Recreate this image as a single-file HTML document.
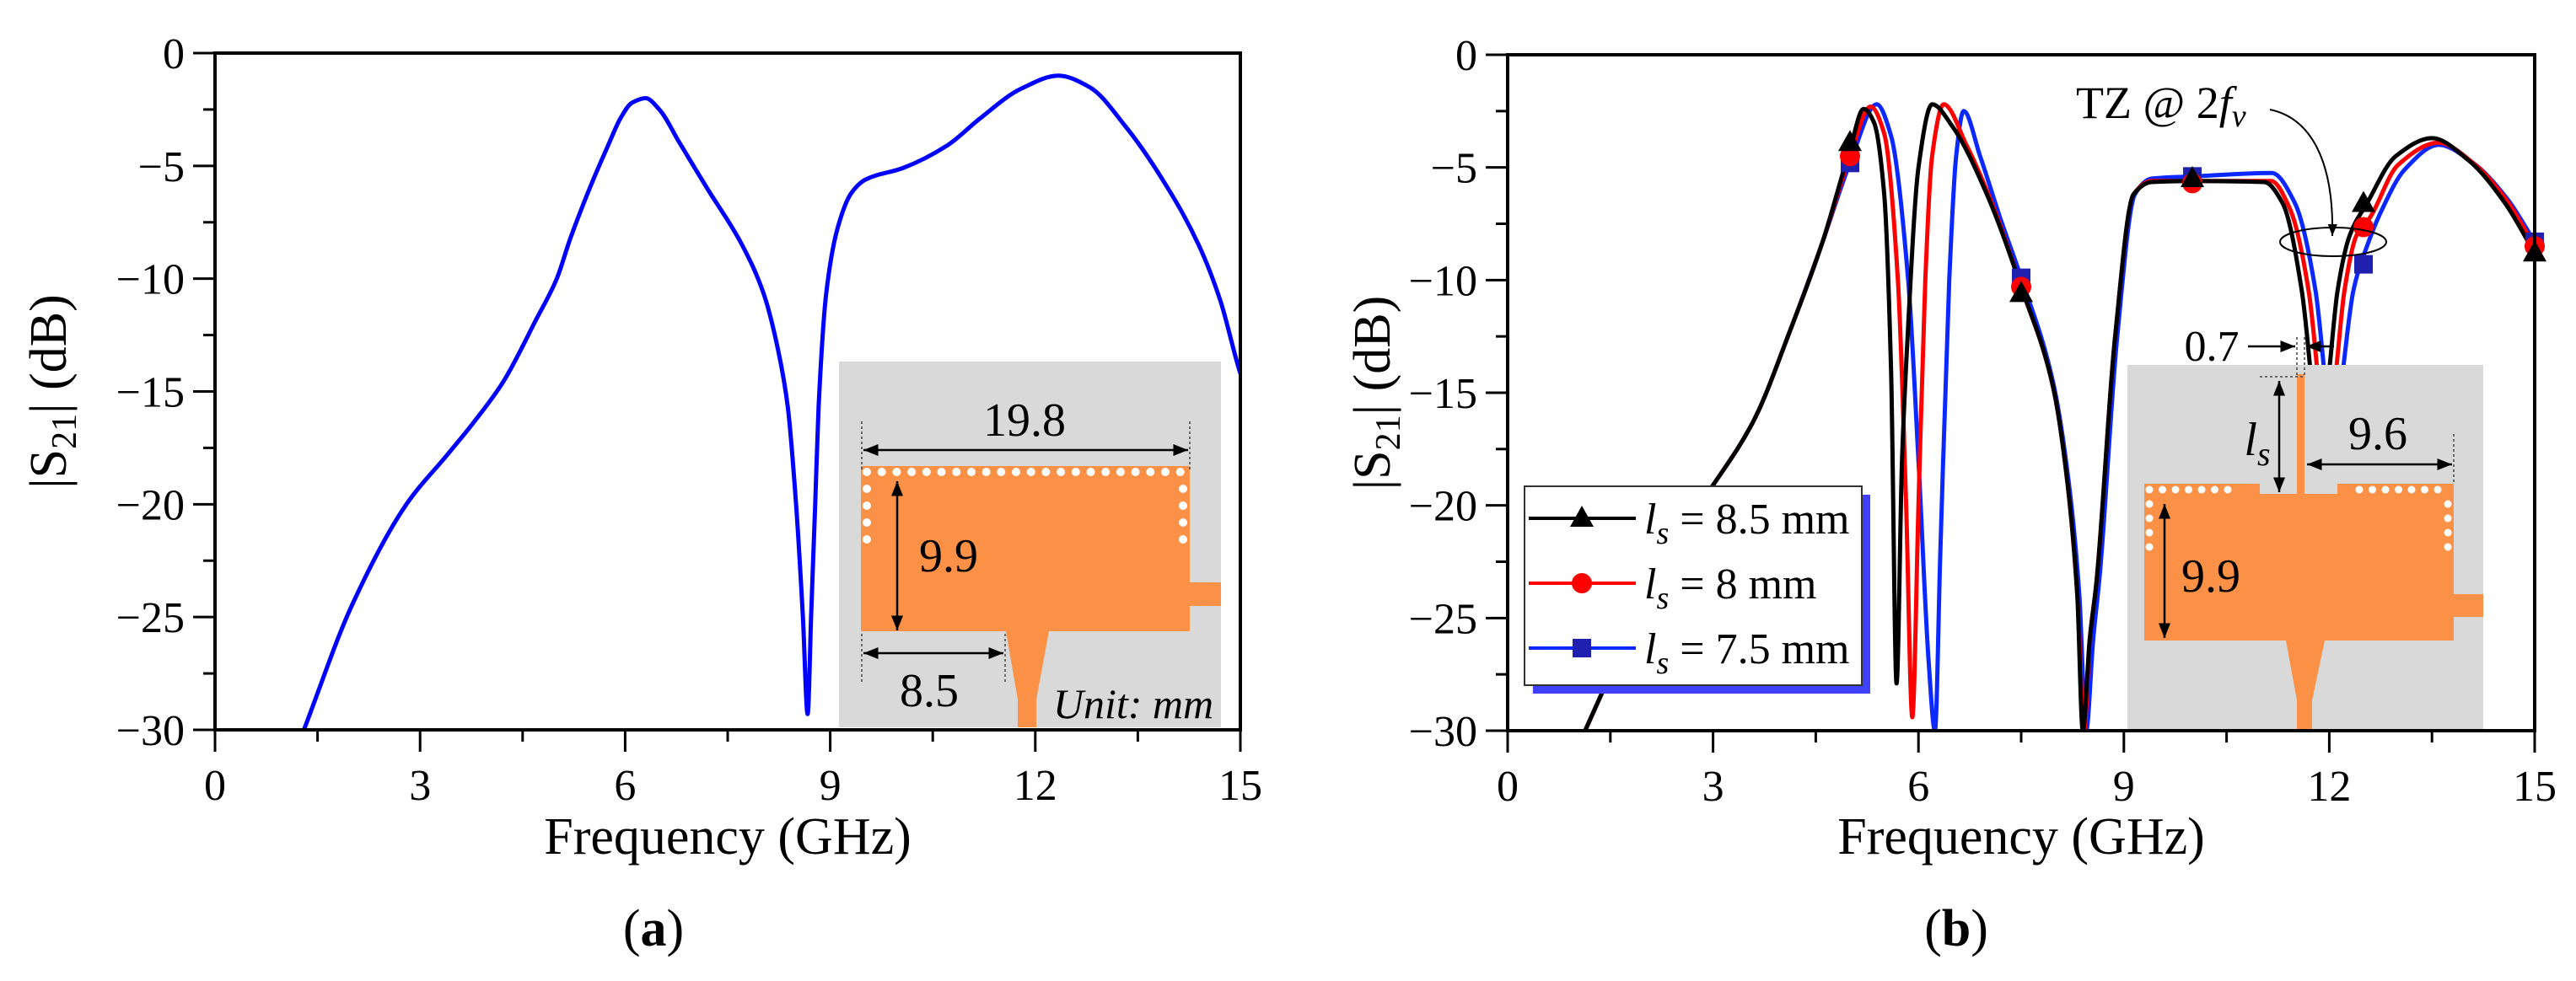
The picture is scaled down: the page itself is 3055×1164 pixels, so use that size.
<!DOCTYPE html>
<html><head><meta charset="utf-8">
<style>
html,body{margin:0;padding:0;background:#fff;}
svg{display:block;font-family:"Liberation Serif",serif;}
</style></head>
<body>
<svg id="fig" width="3055" height="1164" viewBox="0 0 3055 1164" xmlns="http://www.w3.org/2000/svg"></svg>
<script>
// ---------- data ----------
const xTicks = [0, 3, 6, 9, 12, 15];
const yTicks = [0, -5, -10, -15, -20, -25, -30];
const markerFreqs = [5, 7.5, 10, 12.5, 15];

const seriesA = [[1.3,-30],[2.0,-24.5],[2.8,-20],[3.4,-17.8],[3.75,-16.5],[4.21,-14.6],[4.7,-11.8],[5.0,-10],[5.2,-8.2],[5.5,-5.85],[5.75,-4.1],[5.93,-2.9],[6.1,-2.2],[6.3,-2.0],[6.5,-2.5],[6.8,-4],[7.2,-6],[7.71,-8.5],[8.03,-10.7],[8.24,-13.2],[8.38,-15.7],[8.5,-20],[8.6,-25],[8.67,-29.3],[8.72,-25],[8.78,-20],[8.83,-15.7],[8.94,-10.7],[9.1,-7.85],[9.31,-6.2],[9.52,-5.6],[10.06,-5.1],[10.71,-4.1],[11.19,-2.9],[11.78,-1.6],[12.34,-1.0],[12.79,-1.5],[13.32,-3.25],[13.86,-5.6],[14.39,-8.5],[14.71,-11],[14.96,-13.8],[15,-14.2]];

const seriesB85 = [[1.13,-30],[1.8,-25.5],[2.43,-21.5],[3.0,-19.1],[3.6,-16.2],[4.13,-12.2],[4.6,-8.3],[5.0,-4.2],[5.2,-2.4],[5.35,-3.0],[5.5,-6.2],[5.6,-14],[5.68,-27.9],[5.76,-18],[5.84,-12.6],[6.0,-5],[6.2,-2.2],[6.5,-3.2],[7.0,-6.2],[7.5,-10.3],[7.97,-14.8],[8.18,-19.1],[8.32,-24],[8.4,-30],[8.5,-26],[8.6,-23.4],[8.87,-12.6],[9.14,-6.2],[9.4,-5.65],[10,-5.6],[11.05,-5.65],[11.32,-6.6],[11.6,-10.5],[11.75,-14.8],[11.85,-18],[12.0,-14],[12.12,-10.5],[12.3,-8],[12.55,-6.6],[12.97,-4.5],[13.5,-3.7],[14.04,-4.7],[14.57,-6.6],[15,-8.8]];
const seriesB80 = [[1.13,-30],[1.8,-25.5],[2.43,-21.5],[3.0,-19.1],[3.6,-16.2],[4.13,-12.2],[4.6,-8.3],[5.0,-4.5],[5.3,-2.3],[5.5,-3.5],[5.7,-10],[5.82,-20],[5.91,-29.4],[6.0,-20],[6.1,-10],[6.2,-4.5],[6.37,-2.2],[6.7,-4],[7.1,-6.8],[7.5,-10.3],[7.97,-14.8],[8.18,-19.1],[8.32,-24],[8.42,-30],[8.5,-26],[8.6,-23.4],[8.87,-12.6],[9.14,-6.2],[9.4,-5.6],[10,-5.6],[11.15,-5.6],[11.42,-6.8],[11.7,-10.5],[11.85,-14.8],[11.95,-18],[12.1,-14],[12.22,-10.5],[12.4,-8],[12.6,-7.2],[13.0,-4.9],[13.6,-3.9],[14.1,-4.8],[14.6,-6.5],[15,-8.5]];
const seriesB75 = [[1.13,-30],[1.8,-25.5],[2.43,-21.5],[3.0,-19.1],[3.6,-16.2],[4.13,-12.2],[4.6,-8.3],[5.0,-4.8],[5.39,-2.2],[5.6,-3.6],[5.85,-10],[6.0,-18],[6.15,-27],[6.24,-30],[6.32,-22],[6.45,-10],[6.55,-4.5],[6.66,-2.5],[6.9,-4.5],[7.2,-7.3],[7.5,-9.9],[7.97,-14.6],[8.2,-19.1],[8.35,-24],[8.45,-30],[8.55,-26],[8.65,-23],[8.9,-12.6],[9.16,-6.2],[9.4,-5.5],[10,-5.4],[11.16,-5.25],[11.5,-6.6],[11.8,-10.5],[11.95,-14.8],[12.05,-18],[12.2,-14],[12.35,-10.5],[12.55,-8.5],[12.75,-7],[13.1,-5.1],[13.6,-4.0],[14.1,-4.8],[14.6,-6.4],[15,-8.3]];
const markers85 = [-3.9, -10.6, -5.5, -6.6, -8.8];
const markers80 = [-4.5, -10.3, -5.7, -7.65, -8.5];
const markers75 = [-4.8, -9.9, -5.4, -9.3, -8.3];

// ---------- helpers ----------
const NS = "http://www.w3.org/2000/svg";
const svg = document.getElementById('fig');
function mk(tag, attrs, parent, text){
  const e = document.createElementNS(NS, tag);
  for (const k in attrs) e.setAttribute(k, attrs[k]);
  if (text !== undefined) e.textContent = text;
  (parent || svg).appendChild(e);
  return e;
}
function axes(x0, x1, y0, y1){
  return { sx: f => x0 + (f/15)*(x1-x0), sy: v => y0 + (-v/30)*(y1-y0), x0, x1, y0, y1 };
}
const A = axes(255, 1471, 63, 866);
const B = axes(1788, 3006, 65, 867);

function drawFrame(ax, g, labelOff){
  for (let i=0;i<=10;i++){
    const f = i*1.5, x = ax.sx(f), major = i%2===0;
    const t = mk('line',{x1:x,y1:ax.y1,x2:x,y2:ax.y1+(major?26:14),stroke:'#000','stroke-width':3},g);
    
    
  }
  for (let i=0;i<=12;i++){
    const v = -i*2.5, y = ax.sy(v), major = i%2===0;
    const t = mk('line',{x1:ax.x0-(major?26:14),y1:y,x2:ax.x0,y2:y,stroke:'#000','stroke-width':3},g);
    
    
  }
  xTicks.forEach(f=>{
    const t = mk('text',{x:ax.sx(f),y:ax.y1+83,'font-size':52,'text-anchor':'middle'},g,String(f));
    
    
  });
  yTicks.forEach(v=>{
    const t = mk('text',{x:ax.x0-36,y:ax.sy(v)+18,'font-size':52,'text-anchor':'end'},g,v===0?'0':'\u2212'+Math.abs(v));
    
    
  });
}
function drawBox(ax,g){
  const r = mk('rect',{x:ax.x0,y:ax.y0,width:ax.x1-ax.x0,height:ax.y1-ax.y0,fill:'none',stroke:'#000','stroke-width':4},g);
  
  
}
// monotone cubic (Fritsch–Carlson) smoothing through the data points
function pathD(ax, data){
  const P = data.map(p=>[ax.sx(p[0]), ax.sy(p[1])]);
  const n = P.length, d = [], m = [];
  for (let i=0;i<n-1;i++) d.push((P[i+1][1]-P[i][1])/(P[i+1][0]-P[i][0]));
  m[0]=d[0]; m[n-1]=d[n-2];
  for (let i=1;i<n-1;i++){
    if (d[i-1]*d[i]<=0) m[i]=0;
    else { const h0=P[i][0]-P[i-1][0], h1=P[i+1][0]-P[i][0];
      m[i]=3*(h0+h1)/((2*h1+h0)/d[i-1]+(h1+2*h0)/d[i]); }
  }
  let s = 'M'+P[0][0].toFixed(1)+','+P[0][1].toFixed(1);
  for (let i=0;i<n-1;i++){
    const h=(P[i+1][0]-P[i][0])/3;
    s += ' C'+(P[i][0]+h).toFixed(1)+','+(P[i][1]+m[i]*h).toFixed(1)+' '+(P[i+1][0]-h).toFixed(1)+','+(P[i+1][1]-m[i+1]*h).toFixed(1)+' '+P[i+1][0].toFixed(1)+','+P[i+1][1].toFixed(1);
  }
  return s;
}
function titles(ax, cx, g, letter, ytx){
  const t1 = mk('text',{x:(ax.x0+ax.x1)/2,y:1013,'font-size':62,'text-anchor':'middle'},g,'Frequency (GHz)');
  
  
  const t2 = mk('text',{x:0,y:0,'font-size':62,'text-anchor':'middle',transform:`translate(${ytx},${(ax.y0+ax.y1)/2}) rotate(-90)`},g);
  
  
  mk('tspan',{},t2,'|S');
  mk('tspan',{'font-size':42,dy:12},t2,'21');
  mk('tspan',{dy:-12},t2,'| (dB)');
  const t3 = mk('text',{x:cx,y:1122,'font-size':62,'text-anchor':'middle'},g);
  
  
  mk('tspan',{},t3,'(');
  mk('tspan',{'font-weight':'bold'},t3,letter);
  mk('tspan',{},t3,')');
}
function marker(type, x, y, color, g){
  let m;
  if (type==='tri') m = mk('polygon',{points:`${x},${y-15} ${x-14},${y+10} ${x+14},${y+10}`,fill:color},g);
  else if (type==='circ') m = mk('circle',{cx:x,cy:y,r:12,fill:color},g);
  else m = mk('rect',{x:x-11,y:y-11,width:22,height:22,fill:color},g);
  return m;
}

// ---------- defs ----------
const defs = mk('defs',{});
const cpA = mk('clipPath',{id:'clipA'},defs); mk('rect',{x:A.x0,y:A.y0,width:A.x1-A.x0,height:A.y1-A.y0},cpA);
const cpB = mk('clipPath',{id:'clipB'},defs); mk('rect',{x:B.x0,y:B.y0,width:B.x1-B.x0,height:B.y1-B.y0},cpB);
const ah = mk('marker',{id:'ah',viewBox:'0 0 10 10',refX:10,refY:5,markerWidth:7,markerHeight:7,orient:'auto-start-reverse'},defs);
mk('path',{d:'M0,1 L10,5 L0,9 z',fill:'#000'},ah);

// ---------- Panel A ----------
const gA = mk('g',{});  
drawFrame(A,gA);
const lineA = mk('path',{d:pathD(A,seriesA),fill:'none',stroke:'#0000ff','stroke-width':5,'stroke-linejoin':'round','clip-path':'url(#clipA)'},gA);


// inset A
const iA = mk('g',{},gA);  
mk('rect',{x:995,y:429,width:453,height:434,fill:'#d9d9d9'},iA);
mk('path',{d:'M1021,553 H1411 V691 H1448 V719 H1411 V749 H1244 L1229,830 V863 H1207 V830 L1193,749 H1021 Z',fill:'#fb9047'},iA);
for (let i=0;i<22;i++) mk('circle',{cx:1028+i*17.7,cy:560,r:5,fill:'#fff'},iA);
for (let i=1;i<=4;i++){ mk('circle',{cx:1028,cy:560+i*20,r:5,fill:'#fff'},iA); mk('circle',{cx:1403,cy:560+i*20,r:5,fill:'#fff'},iA); }
mk('line',{x1:1022,y1:500,x2:1022,y2:560,stroke:'#444','stroke-width':1.5,'stroke-dasharray':'3,3'},iA);
mk('line',{x1:1411,y1:500,x2:1411,y2:560,stroke:'#444','stroke-width':1.5,'stroke-dasharray':'3,3'},iA);
mk('line',{x1:1024,y1:534,x2:1409,y2:534,stroke:'#000','stroke-width':2.5,'marker-start':'url(#ah)','marker-end':'url(#ah)'},iA);
mk('text',{x:1215,y:517,'font-size':56,'text-anchor':'middle'},iA,'19.8');
mk('line',{x1:1064,y1:571,x2:1064,y2:748,stroke:'#000','stroke-width':2.5,'marker-start':'url(#ah)','marker-end':'url(#ah)'},iA);
mk('text',{x:1125,y:678,'font-size':56,'text-anchor':'middle'},iA,'9.9');
mk('line',{x1:1022,y1:752,x2:1022,y2:810,stroke:'#444','stroke-width':1.5,'stroke-dasharray':'3,3'},iA);
mk('line',{x1:1192,y1:752,x2:1192,y2:810,stroke:'#444','stroke-width':1.5,'stroke-dasharray':'3,3'},iA);
mk('line',{x1:1024,y1:775,x2:1190,y2:775,stroke:'#000','stroke-width':2.5,'marker-start':'url(#ah)','marker-end':'url(#ah)'},iA);
mk('text',{x:1102,y:838,'font-size':56,'text-anchor':'middle'},iA,'8.5');
mk('text',{x:1344,y:852,'font-size':50,'font-style':'italic','text-anchor':'middle'},iA,'Unit: mm');
drawBox(A,gA);
titles(A, 775, gA, 'a', 78);

// ---------- Panel B ----------
const gB = mk('g',{});  
drawFrame(B,gB);
const series = [
  {d:seriesB75, m:markers75, c:'#0a28ff', mc:'#2020b0', t:'sq', n:'curve-ls-7-5mm'},
  {d:seriesB80, m:markers80, c:'#ff0000', mc:'#ff0000', t:'circ', n:'curve-ls-8mm'},
  {d:seriesB85, m:markers85, c:'#000000', mc:'#000000', t:'tri', n:'curve-ls-8-5mm'}
];
series.forEach(s=>{
  const p = mk('path',{d:pathD(B,s.d),fill:'none',stroke:s.c,'stroke-width':5,'stroke-linejoin':'round','clip-path':'url(#clipB)'},gB);
  
  
});
series.forEach(s=>{
  markerFreqs.forEach((f,i)=>{
    const m = marker(s.t, B.sx(f), B.sy(s.m[i]), s.mc, gB);
    
    
  });
});
// inset B
const iB = mk('g',{},gB);  
mk('rect',{x:2523,y:433,width:422,height:434,fill:'#d9d9d9'},iB);
mk('path',{d:'M2543,574 H2680 V586 H2724 V444 H2733 V586 H2772 V574 H2910 V705 H2945 V732 H2910 V760 H2757 L2742,831 V867 H2724 V831 L2711,760 H2543 Z',fill:'#fb9047'},iB);
for (let i=0;i<7;i++){ mk('circle',{cx:2549+i*15.5,cy:581,r:4.5,fill:'#fff'},iB); mk('circle',{cx:2798+i*15.5,cy:581,r:4.5,fill:'#fff'},iB); }
for (let i=1;i<=4;i++){ mk('circle',{cx:2549,cy:581+i*17,r:4.5,fill:'#fff'},iB); mk('circle',{cx:2903,cy:581+i*17,r:4.5,fill:'#fff'},iB); }
mk('line',{x1:2680,y1:447,x2:2733,y2:447,stroke:'#444','stroke-width':1.5,'stroke-dasharray':'3,3'},iB);
mk('line',{x1:2724,y1:400,x2:2724,y2:447,stroke:'#444','stroke-width':1.5,'stroke-dasharray':'3,3'},iB);
mk('line',{x1:2733,y1:400,x2:2733,y2:447,stroke:'#444','stroke-width':1.5,'stroke-dasharray':'3,3'},iB);
mk('line',{x1:2666,y1:411,x2:2722,y2:411,stroke:'#000','stroke-width':2.5,'marker-end':'url(#ah)'},iB);
mk('line',{x1:2768,y1:411,x2:2735,y2:411,stroke:'#000','stroke-width':2.5,'marker-end':'url(#ah)'},iB);
mk('text',{x:2623,y:428,'font-size':52,'text-anchor':'middle'},iB,'0.7');
mk('line',{x1:2703,y1:452,x2:2703,y2:584,stroke:'#000','stroke-width':2.5,'marker-start':'url(#ah)','marker-end':'url(#ah)'},iB);
const ls = mk('text',{x:2677,y:540,'font-size':56,'font-style':'italic','text-anchor':'middle'},iB);
mk('tspan',{},ls,'l'); mk('tspan',{'font-size':40,dy:12},ls,'s');
mk('line',{x1:2910,y1:515,x2:2910,y2:575,stroke:'#444','stroke-width':1.5,'stroke-dasharray':'3,3'},iB);
mk('line',{x1:2736,y1:551,x2:2908,y2:551,stroke:'#000','stroke-width':2.5,'marker-start':'url(#ah)','marker-end':'url(#ah)'},iB);
mk('text',{x:2820,y:533,'font-size':56,'text-anchor':'middle'},iB,'9.6');
mk('line',{x1:2567,y1:598,x2:2567,y2:757,stroke:'#000','stroke-width':2.5,'marker-start':'url(#ah)','marker-end':'url(#ah)'},iB);
mk('text',{x:2622,y:702,'font-size':56,'text-anchor':'middle'},iB,'9.9');
// TZ annotation
const tz = mk('text',{x:2462,y:140,'font-size':54},gB);


mk('tspan',{},tz,'TZ @ 2');
mk('tspan',{'font-style':'italic'},tz,'f');
mk('tspan',{'font-style':'italic','font-size':38,dy:10},tz,'v');
mk('path',{d:'M2692,130 C2740,140 2768,190 2766,280',fill:'none',stroke:'#000','stroke-width':2,'marker-end':'url(#ah)'},gB);
mk('ellipse',{cx:2767,cy:287,rx:63,ry:17,fill:'none',stroke:'#000','stroke-width':2},gB);
// legend
const lg = mk('g',{},gB);  
mk('rect',{x:1818,y:587,width:400,height:236,fill:'#4040ff'},lg);
mk('rect',{x:1808,y:577,width:400,height:236,fill:'#fff',stroke:'#333','stroke-width':2},lg);
const legItems = [['tri','#000','#000','8.5 mm',615],['circ','#ff0000','#ff0000','8 mm',692],['sq','#0a28ff','#2020b0','7.5 mm',769]];
legItems.forEach(it=>{
  const e = mk('g',{},lg);
  
  
  mk('line',{x1:1813,y1:it[4],x2:1940,y2:it[4],stroke:it[1],'stroke-width':4},e);
  marker(it[0],1876,it[4],it[2],e);
  const t = mk('text',{x:1950,y:it[4]+18,'font-size':52},e);
  mk('tspan',{'font-style':'italic'},t,'l');
  mk('tspan',{'font-style':'italic','font-size':38,dy:12},t,'s');
  mk('tspan',{dy:-12},t,' = '+it[3]);
});
drawBox(B,gB);
titles(B, 2320, gB, 'b', 1648);
</script>
</body></html>
